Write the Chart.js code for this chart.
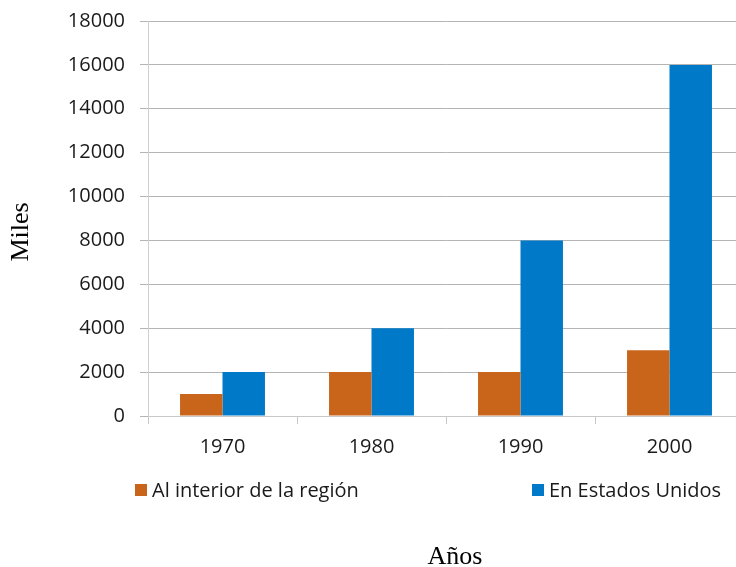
<!DOCTYPE html>
<html>
<head>
<meta charset="utf-8">
<script src="https://cdn.jsdelivr.net/npm/chart.js@4.4.1/dist/chart.umd.min.js"></script>
<style>
  html, body { margin: 0; padding: 0; background: #fff; overflow: hidden; }
  #wrap { position: relative; width: 760px; height: 567px; }
</style>
</head>
<body>
<div id="wrap"><canvas id="c"></canvas></div>
<script>
const categories = ['1970', '1980', '1990', '2000'];
const seriesNames = ['Al interior de la región', 'En Estados Unidos'];
const interiorRegion = [1000, 2000, 2000, 3000];
const estadosUnidos = [2000, 4000, 8000, 16000];
const yTitle = 'Miles';
const xTitle = 'Años';
const yMin = 0, yMax = 18000, yStep = 2000;

const colors = ['#C8651B', '#0079C8'];

const decorPlugin = {
  id: 'decor',
  afterDraw(chart) {
    const ctx = chart.ctx;
    ctx.save();
    ctx.fillStyle = '#000';
    ctx.font = '26px "Liberation Serif", "Times New Roman", serif';
    ctx.textAlign = 'center';
    ctx.textBaseline = 'middle';
    ctx.translate(21, 232);
    ctx.rotate(-Math.PI / 2);
    ctx.fillText(yTitle, 0, 0);
    ctx.restore();

    ctx.save();
    ctx.font = '20px "Open Sans", sans-serif';
    ctx.textBaseline = 'middle';
    ctx.textAlign = 'left';
    const legendX = [135, 532];
    const legendY = 490;
    chart.data.datasets.forEach((ds, i) => {
      ctx.fillStyle = ds.backgroundColor;
      ctx.fillRect(legendX[i], legendY - 6, 12, 12);
      ctx.fillStyle = '#1a1a1a';
      ctx.fillText(ds.label, legendX[i] + 17, legendY + 1);
    });
    ctx.fillStyle = '#000';
    ctx.font = '26px "Liberation Serif", "Times New Roman", serif';
    ctx.textAlign = 'center';
    ctx.textBaseline = 'alphabetic';
    ctx.fillText(xTitle, 455, 564);
    ctx.restore();
  }
};

new Chart(document.getElementById('c'), {
  type: 'bar',
  data: {
    labels: categories,
    datasets: [
      { label: seriesNames[0], data: interiorRegion, backgroundColor: colors[0], borderWidth: 0 },
      { label: seriesNames[1], data: estadosUnidos, backgroundColor: colors[1], borderWidth: 0 }
    ]
  },
  options: {
    responsive: true,
    maintainAspectRatio: false,
    animation: false,
    layout: { padding: { left: 0, right: 16, top: 21, bottom: 91 } },
    datasets: { bar: { categoryPercentage: 0.57, barPercentage: 1.0 } },
    plugins: { legend: { display: false }, tooltip: { enabled: false }, title: { display: false } },
    scales: {
      x: {
        offset: true,
        grid: { offset: true, drawOnChartArea: false, drawTicks: true, tickLength: 8, color: '#c8c8c8', lineWidth: 1 },
        border: { display: true, color: '#c8c8c8', width: 1 },
        ticks: { color: '#1a1a1a', font: { family: '"Open Sans", sans-serif', size: 20 }, padding: 11 },
        afterFit(scale) { scale.height = 60; scale.paddingLeft = 0; scale.paddingRight = 0; }
      },
      y: {
        min: yMin, max: yMax,
        ticks: { stepSize: yStep, color: '#1a1a1a', font: { family: '"Open Sans", sans-serif', size: 20 }, padding: 15,
                 callback: (v) => String(v) },
        grid: { color: '#b4b4b4', lineWidth: 1, tickLength: 8, drawTicks: true },
        border: { display: true, color: '#d0d0d0', width: 1 },
        afterFit(scale) { scale.width = 148; scale.paddingTop = 0; scale.paddingBottom = 0; }
      }
    }
  },
  plugins: [decorPlugin]
});
</script>
</body>
</html>
